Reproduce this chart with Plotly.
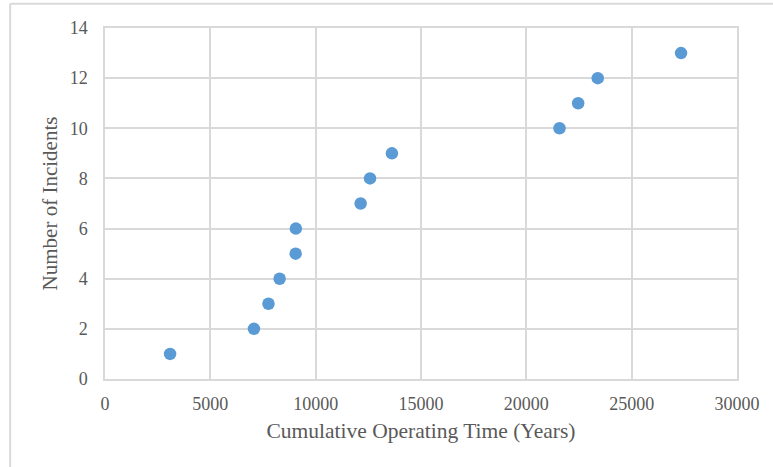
import plotly.graph_objects as go

# Cumulative operating time (years) at which each incident occurred
operating_years = [3090, 7070, 7760, 8290, 9050, 9060, 12135, 12580, 13620,
                   21575, 22460, 23390, 27345]
incident_count = [1, 2, 3, 4, 5, 6, 7, 8, 9, 10, 11, 12, 13]

x_ticks = [0, 5000, 10000, 15000, 20000, 25000, 30000]
y_ticks = [0, 2, 4, 6, 8, 10, 12, 14]

GRID = "#D9D9D9"
TEXT = "#595959"
FONT = "Liberation Serif, Times New Roman, serif"

fig = go.Figure(
    go.Scatter(
        x=operating_years,
        y=incident_count,
        mode="markers",
        marker=dict(size=12.5, color="#5B9BD5", line=dict(width=0)),
        showlegend=False,
    )
)

fig.update_layout(
    width=773,
    height=467,
    margin=dict(l=105, r=36, t=28, b=88),
    paper_bgcolor="white",
    plot_bgcolor="white",
    font=dict(family=FONT, color=TEXT),
)

fig.update_xaxes(
    range=[0, 30000],
    tickvals=x_ticks,
    ticktext=[str(v) for v in x_ticks],
    showgrid=True,
    gridcolor=GRID,
    gridwidth=1.5,
    showline=True,
    linecolor=GRID,
    linewidth=1.5,
    mirror=True,
    zeroline=False,
    ticks="",
    ticklabelstandoff=8,
    tickfont=dict(size=18, family=FONT, color=TEXT),
    title=dict(text="Cumulative Operating Time (Years)",
               font=dict(size=21.5, family=FONT, color=TEXT), standoff=10),
)

fig.update_yaxes(
    range=[0, 14],
    tickvals=y_ticks,
    ticktext=[str(v) for v in y_ticks],
    showgrid=True,
    gridcolor=GRID,
    gridwidth=1.5,
    showline=True,
    linecolor=GRID,
    linewidth=1.5,
    mirror=True,
    zeroline=False,
    ticks="",
    ticklabelstandoff=12,
    tickfont=dict(size=18, family=FONT, color=TEXT),
    title=dict(text="Number of Incidents",
               font=dict(size=21, family=FONT, color=TEXT), standoff=6),
)

# Light frame around the chart area (left and top edges visible)
fig.add_shape(type="line", xref="paper", yref="paper",
              x0=-0.150, x1=-0.150, y0=1.0693, y1=-0.30,
              line=dict(color=GRID, width=2))
fig.add_shape(type="line", xref="paper", yref="paper",
              x0=-0.150, x1=1.10, y0=1.0693, y1=1.0693,
              line=dict(color=GRID, width=2))

fig.write_html("out.html")
